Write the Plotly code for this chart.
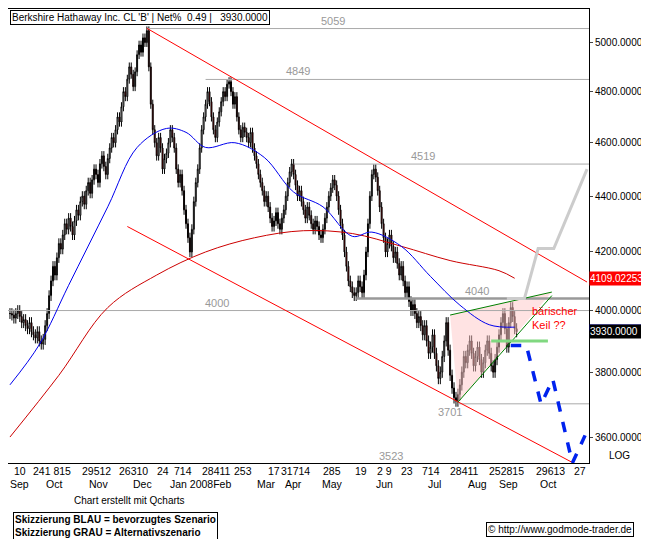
import numpy as np
import plotly.graph_objects as go

# daily closes, Sep 2007 - Sep 2008 (bar index = trading day)
closes = [3990,3985,3975,3990,4000,3980,3960,3970,3950,3940,3960,3930,3920,3910,3930,3900,3890,3905,
          3950,3990,4050,4100,4150,4120,4180,4230,4210,4260,4300,4280,4320,
          4290,4260,4310,4350,4330,4380,4400,4370,4420,4450,4410,4460,4500,4480,4450,4520,4550,4510,4480,4540,
          4580,4620,4600,4650,4700,4680,4740,4800,4780,4850,4900,4870,4820,4880,4950,4990,4960,5020,5000,5050,
          4900,4750,4650,4600,4550,4620,4580,4500,4540,4560,
          4600,4650,4620,4580,4500,4450,4480,4420,4350,4300,4250,4200,4280,4380,4450,4500,4580,4650,4700,4750,
          4800,4760,4700,4650,4620,4680,4720,4760,4800,4780,4830,4840,4800,4750,4780,4700,4650,4620,4660,4640,
          4620,4600,4640,4580,4550,4520,4480,4450,4420,4380,4400,4360,4320,4290,4310,4340,4300,4280,4320,4350,
          4400,4450,4490,4520,4480,4440,4400,4420,4380,4350,4320,4360,4330,4300,4280,4310,4290,4260,4250,4280,
          4320,4360,4400,4430,4460,4440,4400,4350,4300,4260,4200,4150,4100,4080,4060,4050,4060,4100,4080,4060,
          4120,4200,4300,4400,4480,4500,4470,4420,4360,4300,
          4250,4200,4230,4260,4220,4180,4200,4160,4120,4150,4100,4060,4080,4030,4000,4020,3990,3960,3980,3950,
          3920,3950,3900,3860,3880,3920,3860,3820,3780,3800,3850,3900,3960,3870,3790,3750,3720,3710,3730,3760,
          3800,3850,3830,3870,3900,3860,3820,3850,3880,3840,3800,3830,3870,3900,3860,3820,3800,3840,3880,3920,
          3960,3990,3940,3880,3960,4010,3980,3940,3930]

ma200_x = [0, 25, 50, 75, 100, 125, 150, 175, 200, 225, 250, 258]
ma200_y = [3600, 3790, 4010, 4120, 4200, 4250, 4275, 4265, 4220, 4170, 4135, 4109]
ma50_x = [0, 15, 30, 50, 65, 80, 90, 100, 115, 130, 145, 160, 175, 185, 200, 215, 230, 245, 258]
ma50_y = [3760, 3888, 4085, 4361, 4582, 4655, 4640, 4582, 4600, 4544, 4415, 4361, 4255, 4270, 4220, 4115, 4018, 3953, 3945]

levels = [5059, 4849, 4519, 4040, 4000, 3701]
level_start = [70, 100, 145, 177, -2, 229]
level_label_x = [165, 147, 211, 239, 106, 225]

chan_up_x, chan_up_y = [70, 295], [5060, 4096]
chan_lo_x, chan_lo_y = [60, 288], [4290, 3523]
wedge_x, wedge_y = [225, 277, 229], [3985, 4062, 3706]
blue_x = [256, 264, 271.5, 277.5, 287.5, 294]
blue_y = [3885, 3885, 3700, 3777, 3523, 3605]
gray_x = [254, 263, 270, 278, 295]
gray_y = [4040, 4040, 4212, 4212, 4500]

day_groups = ["10", "241 815", "29512", "26310", "24", "714", "28411", "253", "17", "31714", "285",
              "19", "2 9", "23", "714", "28411", "252815", "29613", "27"]
day_px = [10, 43, 88, 126, 156, 177, 211, 238, 270, 292, 329, 359, 383, 406, 430, 465, 508, 553, 583]
months = ["Sep", "Oct", "Nov", "Dec", "Jan 2008Feb", "Mar", "Apr", "May", "Jun", "Jul", "Aug", "Sep", "Oct"]
month_px = [10, 45, 91, 136, 195, 262, 290, 330, 383, 434, 478, 510, 550]
yticks = [5000, 4800, 4600, 4400, 4200, 4000, 3800, 3600]

c = np.array(closes, dtype=float)
o = np.r_[c[0], c[:-1]]
hi = np.maximum(o, c) + 18
lo = np.minimum(o, c) - 18
idx = np.arange(len(c))

fig = go.Figure()
fig.add_trace(go.Scatter(x=wedge_x + [wedge_x[0]], y=wedge_y + [wedge_y[0]], mode="lines", fill="toself",
                         fillcolor="rgba(255,200,200,0.5)", line=dict(width=0), hoverinfo="skip"))
for lv, xs in zip(levels, level_start):
    w = 2.5 if lv == 4040 else 1
    col = "#999999" if lv == 4040 else "#aaaaaa"
    fig.add_trace(go.Scatter(x=[xs, 296], y=[lv, lv], mode="lines", line=dict(color=col, width=w)))
fig.add_trace(go.Scatter(x=chan_up_x, y=chan_up_y, mode="lines", line=dict(color="red", width=1)))
fig.add_trace(go.Scatter(x=chan_lo_x, y=chan_lo_y, mode="lines", line=dict(color="red", width=1)))
fig.add_trace(go.Scatter(x=ma200_x, y=ma200_y, mode="lines", line=dict(color="#cc0000", width=1, shape="spline")))
fig.add_trace(go.Scatter(x=ma50_x, y=ma50_y, mode="lines", line=dict(color="#0000ee", width=1, shape="spline")))
fig.add_trace(go.Candlestick(x=idx, open=o, high=hi, low=lo, close=c, whiskerwidth=0,
                             increasing=dict(line=dict(color="black", width=1), fillcolor="white"),
                             decreasing=dict(line=dict(color="black", width=1), fillcolor="#cc0000")))
fig.add_trace(go.Scatter(x=[wedge_x[0], wedge_x[1]], y=[wedge_y[0], 4062], mode="lines", line=dict(color="green", width=1)))
fig.add_trace(go.Scatter(x=[wedge_x[2], wedge_x[1]], y=[wedge_y[2], 4050], mode="lines", line=dict(color="green", width=1)))
fig.add_trace(go.Scatter(x=[246, 275], y=[3900, 3900], mode="lines", line=dict(color="#80d880", width=3)))
fig.add_trace(go.Scatter(x=gray_x, y=gray_y, mode="lines", line=dict(color="#cccccc", width=3)))
fig.add_trace(go.Scatter(x=blue_x, y=blue_y, mode="lines", line=dict(color="#0022ee", width=3.5, dash="dash")))

ann = []
for lv, lx in zip(levels, level_label_x):
    ann.append(dict(x=lx, y=np.log10(lv), text=str(lv), showarrow=False,
                    yshift=-8 if lv == 3701 else 8, font=dict(color="#999999", size=11)))
ann.append(dict(x=195, y=np.log10(3523), text="3523", showarrow=False, yshift=7, font=dict(color="#999999", size=11)))
ann.append(dict(x=266, y=np.log10(3975), text="bärischer<br>Keil ??", showarrow=False, xanchor="left",
                align="left", font=dict(color="red", size=11)))
for t, px in zip(day_groups, day_px):
    ann.append(dict(x=px / 2, y=0, xref="x", yref="paper", text=t, showarrow=False, yanchor="top",
                    yshift=0, font=dict(size=10.5, color="black")))
for t, px in zip(months, month_px):
    ann.append(dict(x=px / 2, y=0, xref="x", yref="paper", text=t, showarrow=False, yanchor="top",
                    yshift=-13, font=dict(size=10.5, color="black")))
ann.append(dict(x=1.0, y=0, xref="paper", yref="paper", text="LOG", showarrow=False, xanchor="left",
                yanchor="bottom", xshift=18, font=dict(size=10)))
for val, txt, bg, fg in [(4109.02, "4109.02253", "red", "white"), (3945, " ", "#0000ee", "white"),
                         (3930, "3930.0000", "black", "white")]:
    ann.append(dict(x=1.0, y=np.log10(val), xref="paper", yref="y", text=txt, showarrow=False, xanchor="left",
                    bgcolor=bg, font=dict(color=fg, size=10), width=58, height=5 if txt == " " else 13,
                    borderpad=0, align="left"))
ann.append(dict(x=0.11, y=0, xref="paper", yref="paper", text="Chart erstellt mit Qcharts", showarrow=False,
                xanchor="left", yanchor="top", yshift=-30, font=dict(size=10)))
ann.append(dict(x=0.008, y=0, xref="paper", yref="paper",
                text="<b>Skizzierung BLAU = bevorzugtes Szenario<br>Skizzierung GRAU = Alternativszenario</b>",
                showarrow=False, xanchor="left", yanchor="top", align="left", bordercolor="black",
                borderwidth=1, borderpad=1, yshift=-49, font=dict(size=10)))
ann.append(dict(x=1.0, y=0, xref="paper", yref="paper", text="© http://www.godmode-trader.de",
                showarrow=False, xanchor="right", yanchor="top", bordercolor="black", borderwidth=1,
                borderpad=1, xshift=45, yshift=-59, font=dict(size=10)))
ann.append(dict(x=0.003, y=0.998, xref="paper", yref="paper",
                text="Berkshire Hathaway Inc. CL 'B' | Net% <span style='background:#44ee44'> 0.49 </span>|   3930.0000",
                showarrow=False, xanchor="left", yanchor="top", bgcolor="white", bordercolor="black",
                borderwidth=1, font=dict(size=10)))

fig.update_layout(
    width=649, height=539, margin=dict(l=0, r=68, t=1, b=84),
    paper_bgcolor="white", plot_bgcolor="white", showlegend=False,
    font=dict(family="Liberation Sans, Arial", size=10, color="black"),
    annotations=ann,
    xaxis=dict(range=[-1, 296], showticklabels=False, showgrid=False, zeroline=False,
               rangeslider=dict(visible=False), showline=True, linecolor="black", mirror=True),
    yaxis=dict(type="log", side="right", range=[np.log10(3523), np.log10(5142)], tickvals=yticks,
               ticktext=[f"{v}.0000" for v in yticks], showgrid=False, ticks="outside", ticklen=3,
               showline=True, linecolor="black", mirror=True, tickfont=dict(size=10)),
)
fig.write_html("out.html")
